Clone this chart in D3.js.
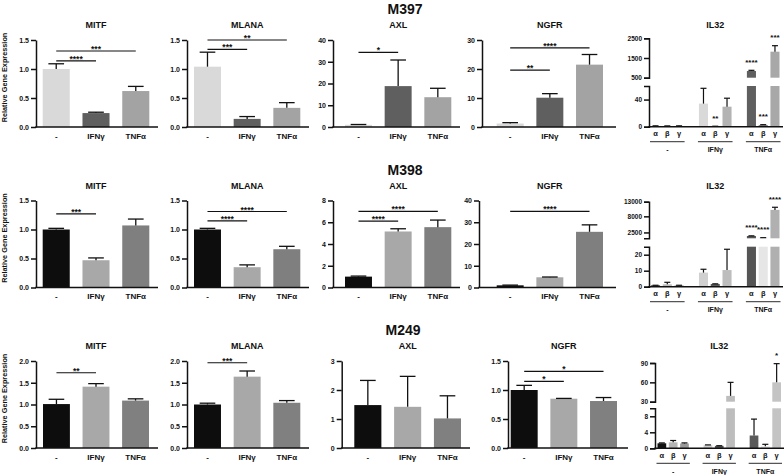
<!DOCTYPE html>
<html>
<head>
<meta charset="utf-8">
<script src="https://cdn.jsdelivr.net/npm/d3@7"></script>
<style>
  body { margin: 0; background: #fff; }
  text { font-family: Arial, "Liberation Sans", sans-serif; font-weight: bold; fill: #111; }
</style>
</head>
<body>
<svg id="chart" width="784" height="475"></svg>
<script>
// ---- data ----
var cellLines = ["M397", "M398", "M249"];
var genes = ["MITF", "MLANA", "AXL", "NGFR"];
var treatments = ["-", "IFNγ", "TNFα"];
var isoforms = ["α", "β", "γ"];

// mean relative expression, [gene][treatment]
var meanM397 = [[1.0, 0.24, 0.62], [1.04, 0.14, 0.33], [1.0, 18.8, 13.7], [1.2, 10.1, 21.5]];
var semM397 = [[0.09, 0.015, 0.08], [0.25, 0.04, 0.09], [0.15, 12.0, 4.1], [0.3, 1.4, 3.5]];
var meanM398 = [[1.0, 0.47, 1.07], [1.0, 0.35, 0.66], [1.0, 5.15, 5.55], [1.0, 4.7, 25.6]];
var semM398 = [[0.02, 0.04, 0.11], [0.02, 0.04, 0.05], [0.05, 0.25, 0.65], [0.1, 0.12, 3.2]];
var meanM249 = [[1.01, 1.41, 1.09], [1.0, 1.64, 1.04], [1.48, 1.42, 1.02], [1.0, 0.85, 0.81]];
var semM249 = [[0.11, 0.07, 0.04], [0.03, 0.13, 0.05], [0.85, 1.05, 0.78], [0.08, 0.005, 0.06]];

// y tick labels, [gene]
var ticksM397 = [[0, 0.5, 1, 1.5], [0, 0.5, 1, 1.5], [0, 10, 20, 30, 40], [0, 10, 20, 30]];
var ticksM398 = [[0, 0.5, 1, 1.5], [0, 0.5, 1, 1.5], [0, 2, 4, 6, 8], [0, 10, 20, 30, 40]];
var ticksM249 = [[0, 0.5, 1, 1.5, 2], [0, 0.5, 1, 1.5, 2], [0, 1, 2, 3], [0, 0.5, 1, 1.5]];

// significance brackets: [from, to, level, stars]
var sigM397 = [[[0, 1, 1.14, "****"], [0, 2, 1.31, "***"]], [[0, 1, 1.34, "***"], [0, 2, 1.5, "**"]],
               [[0, 1, 34.3, "*"]], [[0, 1, 19.6, "**"], [0, 2, 27.3, "****"]]];
var sigM398 = [[[0, 1, 1.27, "***"]], [[0, 1, 1.15, "****"], [0, 2, 1.31, "****"]],
               [[0, 1, 6.1, "****"], [0, 2, 7.0, "****"]], [[0, 2, 35, "****"]]];
var sigM249 = [[[0, 1, 1.73, "**"]], [[0, 1, 1.96, "***"]], [], [[0, 1, 1.15, "*"], [0, 2, 1.32, "*"]]];

// IL32 isoforms, [treatment][isoform]
var il32MeanM397 = [[1, 1, 1], [34, 0.5, 29.5], [840, 2.5, 1820]];
var il32SemM397 = [[0.3, 0.2, 0.3], [22.6, 0.2, 12.5], [35, 0.5, 305]];
var il32StarsM397 = [["", "", ""], ["", "**", ""], ["****", "***", "***"]];
var il32MeanM398 = [[0.8, 1.5, 0.8], [8.8, 1.7, 10.4], [1285, 700, 10200]];
var il32SemM398 = [[0.1, 1.25, 0.1], [2.1, 0.1, 13.0], [60, 20, 900]];
var il32StarsM398 = [["", "", ""], ["", "", ""], ["****", "****", "****"]];
var il32MeanM249 = [[1.25, 1.5, 1.2], [0.8, 0.6, 39], [3.2, 0.5, 60]];
var il32SemM249 = [[0.1, 0.45, 0.15], [0.05, 0.05, 21], [4.1, 0.5, 29]];
var il32StarsM249 = [["", "", ""], ["", "", ""], ["", "", "*"]];

// broken axis: lower and upper segments with tick labels
var il32LowerM397 = [0, 60], il32LowerTicksM397 = [0, 40];
var il32UpperM397 = [500, 2500], il32UpperTicksM397 = [500, 1500, 2500];
var il32LowerM398 = [0, 25], il32LowerTicksM398 = [0, 10, 20];
var il32UpperM398 = [500, 13000], il32UpperTicksM398 = [2500, 8000, 13000];
var il32LowerM249 = [0, 10], il32LowerTicksM249 = [0, 4, 8];
var il32UpperM249 = [30, 90], il32UpperTicksM249 = [30, 60, 90];

var means = [meanM397, meanM398, meanM249];
var sems = [semM397, semM398, semM249];
var tickSets = [ticksM397, ticksM398, ticksM249];
var sigs = [sigM397, sigM398, sigM249];
var il32 = [
  {mean: il32MeanM397, sem: il32SemM397, stars: il32StarsM397, lower: il32LowerM397, lowerTicks: il32LowerTicksM397, upper: il32UpperM397, upperTicks: il32UpperTicksM397},
  {mean: il32MeanM398, sem: il32SemM398, stars: il32StarsM398, lower: il32LowerM398, lowerTicks: il32LowerTicksM398, upper: il32UpperM398, upperTicks: il32UpperTicksM398},
  {mean: il32MeanM249, sem: il32SemM249, stars: il32StarsM249, lower: il32LowerM249, lowerTicks: il32LowerTicksM249, upper: il32UpperM249, upperTicks: il32UpperTicksM249}
];

// ---- layout & style ----
var rowTop = [40, 200.5, 361];
var plotH = 87;
// [axis x, first bar left, last bar right, x-axis end]
var panelX = [
  [[36, 42.7, 149.3, 158], [187, 194, 300.3, 309], [333, 345, 451.3, 460], [482, 496.7, 603, 616]],
  [[36, 42.7, 149.3, 158], [187, 194, 300.3, 309], [333, 345, 451.3, 460], [479, 496.7, 603, 616]],
  [[36, 43, 149, 158], [187, 194, 300.3, 309], [341.7, 354.3, 461, 470], [508, 510.7, 617, 628]]
];
var il32X = [[649, 651, 779.5, 783], [649, 651, 779.5, 783], [655, 657.5, 781, 784]];
var il32Y = [
  {upper: [77.7, 38.3], lower: [126.7, 86]},
  {upper: [238.3, 201.7], lower: [286.7, 246.7]},
  {upper: [401.7, 363], lower: [448.3, 408.3]}
];
var titleX = [405, 405, 403];
var barColors = [["#d9d9d9", "#5f5f5f", "#a3a3a3"], ["#0d0d0d", "#a8a8a8", "#7f7f7f"], ["#0d0d0d", "#a8a8a8", "#808080"]];
var il32Colors = [
  [["#2a2a2a", "#666666", "#888888"], ["#d9d9d9", "#555555", "#b3b3b3"], ["#5f5f5f", "#888888", "#a8a8a8"]],
  [["#1a1a1a", "#bdbdbd", "#9a9a9a"], ["#d0d0d0", "#5a5a5a", "#bdbdbd"], ["#555555", "#e6e6e6", "#b0b0b0"]],
  [["#111111", "#b5b5b5", "#999999"], ["#cfcfcf", "#555555", "#bdbdbd"], ["#5a5a5a", "#e3e3e3", "#c4c4c4"]]
];

var svg = d3.select("#chart");

function styleAxis(g, fontSize) {
  g.select(".domain").attr("stroke", "#111").attr("stroke-width", 1.5);
  g.selectAll(".tick line").attr("stroke", "#111").attr("stroke-width", 1.5);
  g.selectAll(".tick text").attr("font-size", fontSize + "px")
    .attr("font-family", "Arial, 'Liberation Sans', sans-serif").attr("font-weight", "bold").attr("fill", "#111");
}

function drawPanel(r, g) {
  var pos = panelX[r][g];
  var top = rowTop[r], bottom = top + plotH;
  var ticks = tickSets[r][g];
  var m = means[r][g], s = sems[r][g];

  var y = d3.scaleLinear().domain([0, ticks[ticks.length - 1]]).range([bottom, top]);
  var x = d3.scaleBand().domain(treatments).range([pos[1], pos[2]]).paddingInner(0.32).paddingOuter(0);
  var bw = x.bandwidth();
  var fmt = ticks.some(t => t % 1 !== 0) ? d3.format(".1f") : d3.format("d");

  var panel = svg.append("g");

  // title
  panel.append("text")
    .attr("x", (pos[1] + pos[2]) / 2).attr("y", top - 12)
    .attr("text-anchor", "middle").attr("font-size", "9px")
    .text(genes[g]);

  // bars
  panel.selectAll(".bar").data(treatments).enter().append("rect")
    .attr("x", d => x(d))
    .attr("width", bw)
    .attr("y", (d, i) => y(m[i]))
    .attr("height", (d, i) => bottom - y(m[i]))
    .attr("fill", (d, i) => barColors[r][i]);

  // error bars (upper only)
  var err = panel.selectAll(".err").data(treatments).enter().append("g");
  err.append("line")
    .attr("x1", d => x(d) + bw / 2).attr("x2", d => x(d) + bw / 2)
    .attr("y1", (d, i) => y(m[i])).attr("y2", (d, i) => y(m[i] + s[i]))
    .attr("stroke", "#111").attr("stroke-width", 1.3);
  err.append("line")
    .attr("x1", d => x(d) + bw / 2 - bw * 0.29).attr("x2", d => x(d) + bw / 2 + bw * 0.29)
    .attr("y1", (d, i) => y(m[i] + s[i])).attr("y2", (d, i) => y(m[i] + s[i]))
    .attr("stroke", "#111").attr("stroke-width", 1.3);

  // axes
  var yAxis = panel.append("g")
    .attr("transform", `translate(${pos[0]},0)`)
    .call(d3.axisLeft(y).tickValues(ticks).tickFormat(fmt).tickSize(5).tickPadding(2).tickSizeOuter(0));
  styleAxis(yAxis, 7);

  panel.append("line")
    .attr("x1", pos[0] - 0.75).attr("x2", pos[3])
    .attr("y1", bottom).attr("y2", bottom)
    .attr("stroke", "#111").attr("stroke-width", 1.5);

  panel.selectAll(".cat").data(treatments).enter().append("text")
    .attr("x", d => x(d) + bw / 2).attr("y", bottom + 11.5)
    .attr("text-anchor", "middle").attr("font-size", "8px")
    .text(d => d);

  // significance brackets
  sigs[r][g].forEach(function(sg) {
    var xa = x(treatments[sg[0]]) + bw / 2, xb = x(treatments[sg[1]]) + bw / 2;
    panel.append("line")
      .attr("x1", xa).attr("x2", xb)
      .attr("y1", y(sg[2])).attr("y2", y(sg[2]))
      .attr("stroke", "#111").attr("stroke-width", 1.2);
    panel.append("text")
      .attr("x", (xa + xb) / 2).attr("y", y(sg[2]) + 1)
      .attr("text-anchor", "middle").attr("font-size", "8.5px")
      .text(sg[3]);
  });
}

function drawIL32(r) {
  var pos = il32X[r], yy = il32Y[r], d = il32[r];
  var lo = d3.scaleLinear().domain(d.lower).range(yy.lower);
  var up = d3.scaleLinear().domain(d.upper).range(yy.upper);
  var loMax = d.lower[1], upMin = d.upper[0];
  var gx = d3.scaleBand().domain(treatments).range([pos[1], pos[2]]).paddingInner(0.32).paddingOuter(0);
  var ix = d3.scaleBand().domain(isoforms).range([0, gx.bandwidth()]).paddingInner(0.23).paddingOuter(0);
  var bw = ix.bandwidth();
  var zero = lo(0);

  var panel = svg.append("g");

  panel.append("text")
    .attr("x", (pos[1] + pos[2]) / 2).attr("y", rowTop[r] - 12)
    .attr("text-anchor", "middle").attr("font-size", "9px")
    .text("IL32");

  var bars = [];
  treatments.forEach(function(t, ti) {
    isoforms.forEach(function(iso, ii) {
      bars.push({t: t, ti: ti, iso: iso, ii: ii, v: d.mean[ti][ii], s: d.sem[ti][ii], star: d.stars[ti][ii],
                 cx: gx(t) + ix(iso) + bw / 2});
    });
  });

  bars.forEach(function(b) {
    var fill = il32Colors[r][b.ti][b.ii];
    var top = b.v + b.s;
    if (b.v <= loMax) {
      panel.append("rect").attr("x", b.cx - bw / 2).attr("width", bw)
        .attr("y", lo(b.v)).attr("height", zero - lo(b.v)).attr("fill", fill);
      var yTop = lo(Math.min(top, loMax));
      panel.append("line").attr("x1", b.cx).attr("x2", b.cx)
        .attr("y1", lo(b.v)).attr("y2", yTop).attr("stroke", "#111").attr("stroke-width", 1.2);
      panel.append("line").attr("x1", b.cx - 3).attr("x2", b.cx + 3)
        .attr("y1", yTop).attr("y2", yTop).attr("stroke", "#111").attr("stroke-width", 1.2);
      b.topY = yTop;
    } else {
      panel.append("rect").attr("x", b.cx - bw / 2).attr("width", bw)
        .attr("y", lo(loMax)).attr("height", zero - lo(loMax)).attr("fill", fill);
      panel.append("rect").attr("x", b.cx - bw / 2).attr("width", bw)
        .attr("y", up(b.v)).attr("height", up(upMin) - up(b.v)).attr("fill", fill);
      panel.append("line").attr("x1", b.cx).attr("x2", b.cx)
        .attr("y1", up(b.v)).attr("y2", up(top)).attr("stroke", "#111").attr("stroke-width", 1.2);
      panel.append("line").attr("x1", b.cx - 3).attr("x2", b.cx + 3)
        .attr("y1", up(top)).attr("y2", up(top)).attr("stroke", "#111").attr("stroke-width", 1.2);
      b.topY = up(top);
    }
    if (b.star) {
      panel.append("text").attr("x", b.cx).attr("y", b.topY - 5.5)
        .attr("text-anchor", "middle").attr("font-size", "8px").text(b.star);
    }
  });

  // broken y axis
  var upAxis = panel.append("g").attr("transform", `translate(${pos[0]},0)`)
    .call(d3.axisLeft(up).tickValues(d.upperTicks).tickFormat(d3.format("d")).tickSize(5).tickPadding(2).tickSizeOuter(5));
  styleAxis(upAxis, 6.5);
  var loAxis = panel.append("g").attr("transform", `translate(${pos[0]},0)`)
    .call(d3.axisLeft(lo).tickValues(d.lowerTicks).tickFormat(d3.format("d")).tickSize(5).tickPadding(2).tickSizeOuter(5));
  styleAxis(loAxis, 6.5);

  panel.append("line")
    .attr("x1", pos[0] - 0.75).attr("x2", pos[3])
    .attr("y1", zero).attr("y2", zero)
    .attr("stroke", "#111").attr("stroke-width", 1.5);

  // isoform labels and group underlines
  panel.selectAll(".iso").data(bars).enter().append("text")
    .attr("x", b => b.cx).attr("y", zero + 9.5)
    .attr("text-anchor", "middle").attr("font-size", "7.5px")
    .text(b => b.iso);

  treatments.forEach(function(t) {
    panel.append("line")
      .attr("x1", gx(t) - 1).attr("x2", gx(t) + gx.bandwidth() + 1)
      .attr("y1", zero + 15).attr("y2", zero + 15)
      .attr("stroke", "#555").attr("stroke-width", 1.3);
    panel.append("text")
      .attr("x", gx(t) + gx.bandwidth() / 2).attr("y", zero + 25.5)
      .attr("text-anchor", "middle").attr("font-size", "7px")
      .text(t);
  });
}

cellLines.forEach(function(name, r) {
  var top = rowTop[r];
  svg.append("text")
    .attr("x", titleX[r]).attr("y", top - 26)
    .attr("text-anchor", "middle").attr("font-size", "14px")
    .text(name);

  svg.append("text")
    .attr("transform", `translate(6.8, ${top + 37.5}) rotate(-90)`)
    .attr("text-anchor", "middle").attr("font-size", "7.3px")
    .text("Relative Gene Expression");

  genes.forEach(function(gene, g) { drawPanel(r, g); });
  drawIL32(r);
});
</script>
</body>
</html>
